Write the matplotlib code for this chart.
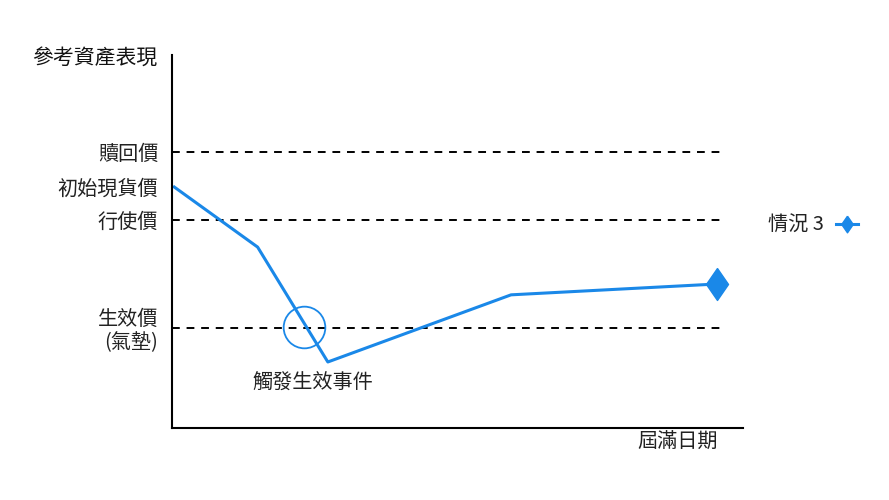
import matplotlib.pyplot as plt
from matplotlib.lines import Line2D

plt.rcParams['font.family'] = ['Noto Sans CJK TC', 'DejaVu Sans']

# 參考資產走勢 (時間 0-100, 價格 0-100)
path_x = [0.4, 15.0, 27.3, 59.4, 95.4]
path_y = [64.6, 48.5, 17.7, 35.7, 38.6]

# 各價位
level_names = ["贖回價", "初始現貨價", "行使價", "生效價\n(氣墊)"]
level_values = [74.0, 64.6, 55.8, 27.0]
dashed_levels = [74.0, 55.8, 26.8]

trigger_x, trigger_y = 23.1, 27.1

blue = "#1a88e8"
txt = "#222222"
fs = 14.5

# 較寬的菱形標記
diamond = [(0, 1), (0.69, 0), (0, -1), (-0.69, 0), (0, 1)]

fig = plt.figure(figsize=(8.89, 5), dpi=100)
ax = fig.add_axes([0.1935, 0.144, 0.642, 0.746])

for lv in dashed_levels:
    ax.plot([0, 96], [lv, lv], ls=(0, (4, 3.5)), color="black", lw=1.4)

ax.plot(path_x, path_y, color=blue, lw=2.2)
ax.plot(path_x[-1], path_y[-1], marker=diamond, ms=23, color=blue, ls="none")

# 觸發點圓圈
ax.plot(trigger_x, trigger_y, marker="o", ms=30, mfc="none", mec=blue, mew=1.3)
ax.text(24.7, 12.0, "觸發生效事件", ha="center", va="center", fontsize=fs, color=txt)

ax.set_xlim(0, 100)
ax.set_ylim(0, 100)
ax.set_yticks(level_values)
ax.set_yticklabels(level_names, fontsize=fs, color=txt, linespacing=1.15)
ax.tick_params(axis="y", length=0, pad=10)
ax.set_xticks([])
for s in ["top", "right"]:
    ax.spines[s].set_visible(False)
ax.spines["left"].set_linewidth(1.5)
ax.spines["bottom"].set_linewidth(1.5)

fig.text(0.177, 0.885, "參考資產表現", ha="right", va="center", fontsize=15,
         color="#111111")
fig.text(0.808, 0.116, "屆滿日期", ha="right", va="center", fontsize=fs, color=txt)

handle = Line2D([], [], color=blue, lw=2.2, marker=diamond, ms=12)
fig.legend([handle], ["情況 3"], loc="center left", bbox_to_anchor=(0.864, 0.549),
           frameon=False, markerfirst=False, handlelength=1.1, fontsize=fs,
           labelcolor=txt, handletextpad=0.6, borderpad=0, borderaxespad=0)

fig.savefig("out.png", dpi=100)
